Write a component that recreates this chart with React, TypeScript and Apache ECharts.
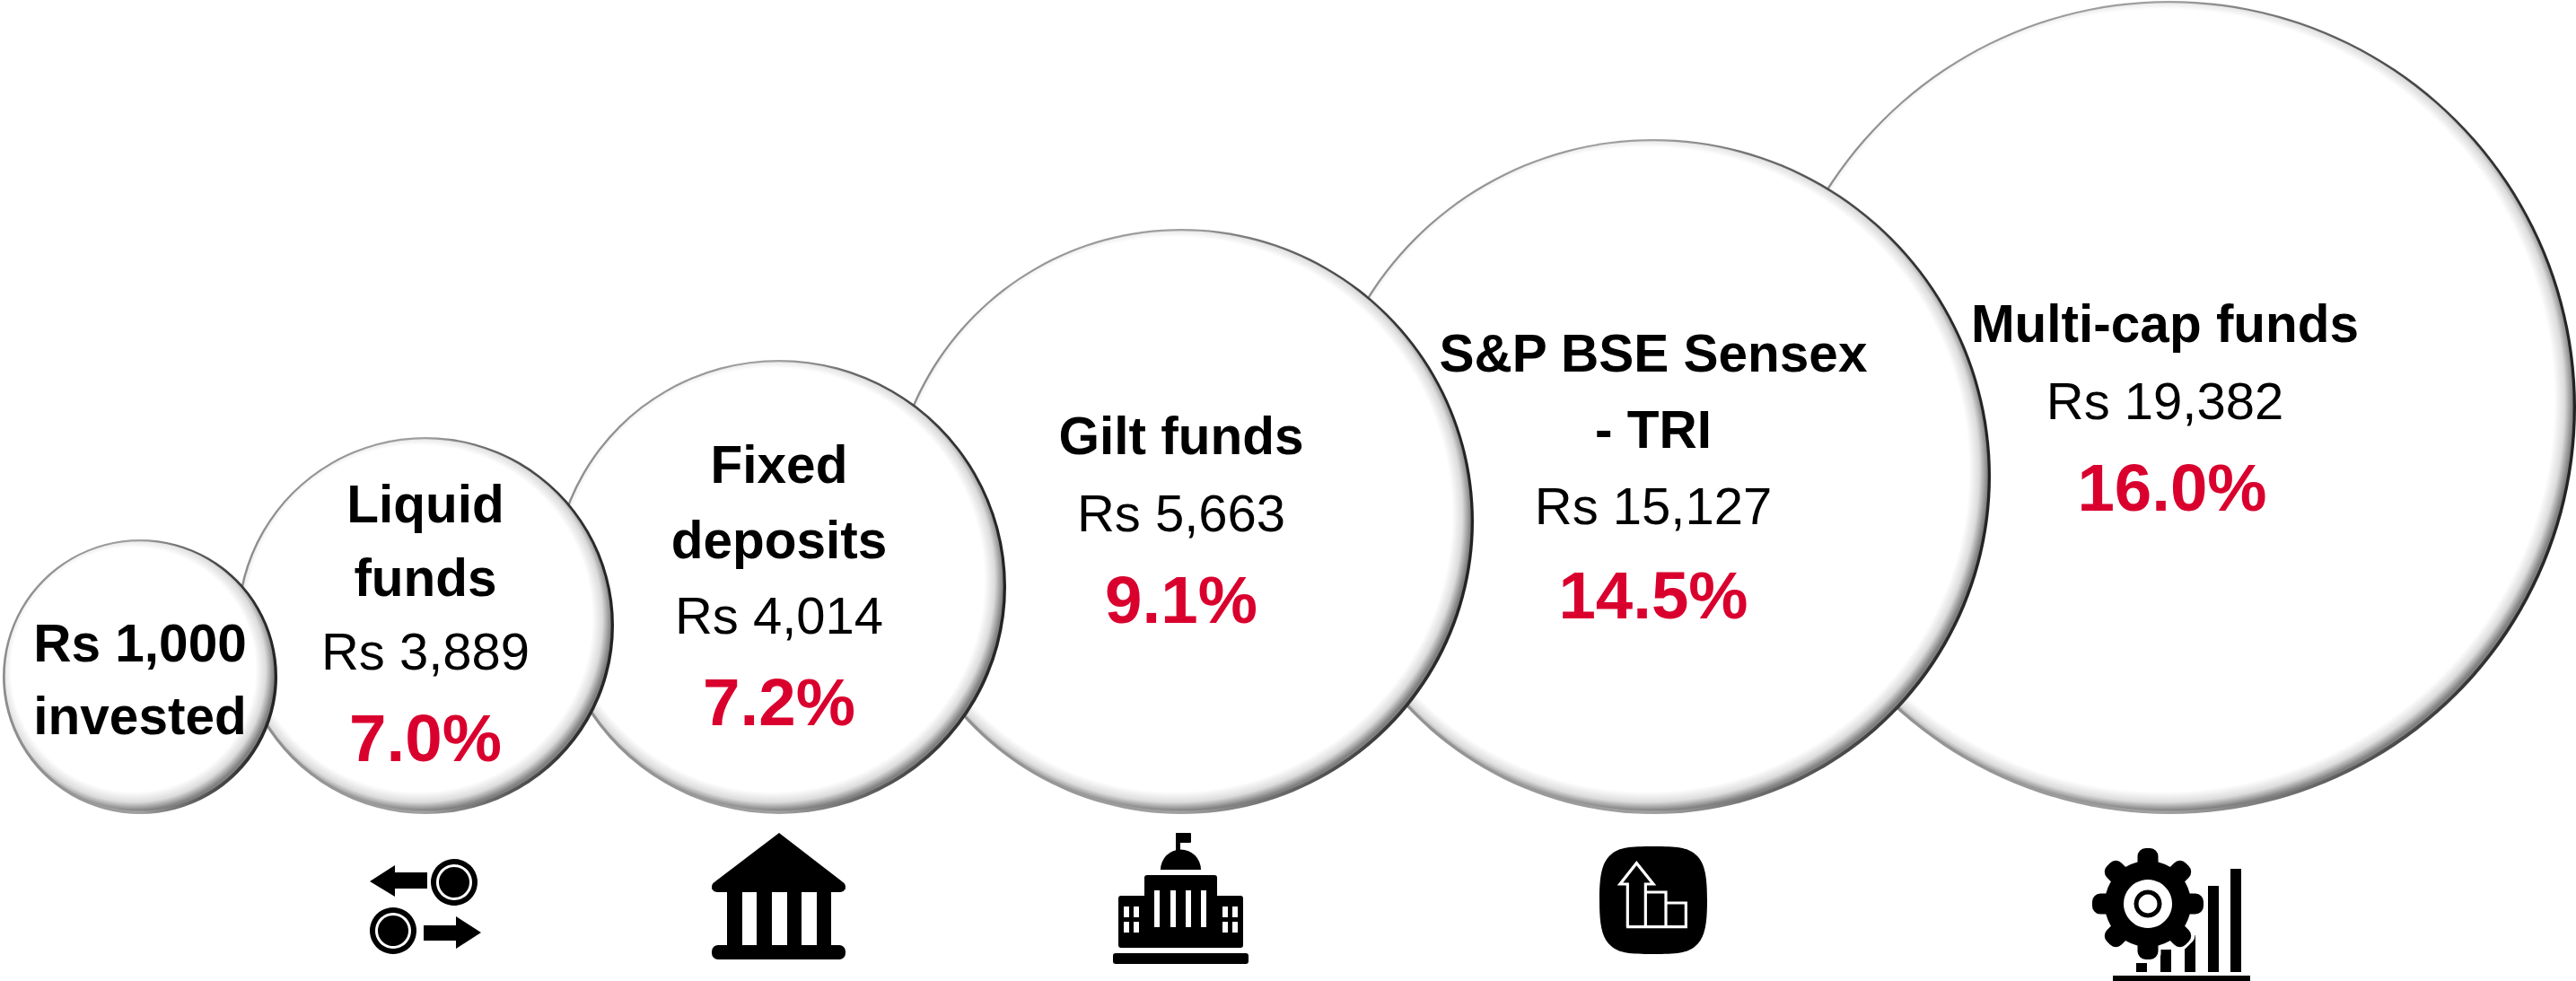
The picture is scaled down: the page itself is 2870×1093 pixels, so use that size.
import React, { useEffect, useRef } from "react";
import * as echarts from "echarts";

// ---- chart content ----
const titles: string[][] = [
  ["Rs 1,000", "invested"],
  ["Liquid", "funds"],
  ["Fixed", "deposits"],
  ["Gilt funds"],
  ["S&P BSE Sensex", "- TRI"],
  ["Multi-cap funds"],
];
const finalValues = [1000, 3889, 4014, 5663, 15127, 19382];
const returnsPct = [null, 7.0, 7.2, 9.1, 14.5, 16.0];

// ---- layout (page pixels) ----
const W = 2870;
const H = 1093;
const FONT = "Liberation Sans, Arial, sans-serif";
const bubbleX = [156, 474, 868, 1316, 1842, 2417];
const bubbleR = [153, 210, 253, 326, 376, 453];
const bubbleBottom = 907;
const labelTop = [716, 561, 517, 485, 393, 360];
const lineStep = [81, 82, 84, 86, 85, 86];
const pctStep = [0, 97, 97, 97, 100, 97];
const textDx = [0, 0, 0, 0, 0, -5];
const pctDx = [0, 0, 0, 0, 0, 3];

const rows = finalValues.map((_, i) => i).reverse();

function renderBubble(_: any, api: any) {
  const i = api.value(0);
  const [cx, cy] = api.coord([bubbleX[i], bubbleBottom - bubbleR[i]]);
  const r = api.size([bubbleR[i], 0])[0];
  const shift = 7;
  const innerR = r - 3;
  const d = 2 * innerR;
  const outerR = innerR + shift;
  const white = Math.max(0, (r - 17) / outerR);
  const children: any[] = [
    {
      type: "circle",
      shape: { cx, cy, r },
      style: {
        fill: {
          type: "linear", x: 0, y: 0.5, x2: 1, y2: 0.5,
          colorStops: [
            { offset: 0, color: "#8c8c8c" },
            { offset: 0.5, color: "#a0a0a0" },
            { offset: 0.72, color: "#5a5a5a" },
            { offset: 0.88, color: "#333333" },
            { offset: 1, color: "#222222" },
          ],
        },
      },
    },
    {
      type: "circle",
      shape: { cx: cx - 0.3, cy: cy - 0.8, r: innerR },
      style: {
        fill: {
          type: "radial",
          x: 0.5 - shift / d,
          y: 0.5 - shift / d,
          r: outerR / d,
          colorStops: [
            { offset: 0, color: "#ffffff" },
            { offset: white, color: "#ffffff" },
            { offset: white + (1 - white) * 0.55, color: "#dcdcdc" },
            { offset: 1, color: "#808080" },
          ],
        },
      },
    },
  ];
  const addText = (text: string, x: number, y: number, size: number, weight: string, fill: string) =>
    children.push({
      type: "text",
      style: {
        text, x, y, align: "center", verticalAlign: "middle",
        font: `${weight} ${size}px ${FONT}`, fill,
      },
    });
  let y = labelTop[i];
  titles[i].forEach((t) => {
    addText(t, cx + textDx[i], y, 58.5, "bold", "#000000");
    y += lineStep[i];
  });
  if (returnsPct[i] !== null) {
    addText(`Rs ${finalValues[i].toLocaleString("en-US")}`, cx + textDx[i], y, 58, "normal", "#000000");
    addText(`${(returnsPct[i] as number).toFixed(1)}%`, cx + pctDx[i], y + pctStep[i], 74.5, "bold", "#d9002e");
  }
  return { type: "group", children };
}

const rect = (x: number, y: number, w: number, h: number, fill = "#000", r = 0) => ({
  type: "rect", shape: { x, y, width: w, height: h, r }, style: { fill },
});
const circle = (cx: number, cy: number, r: number, fill = "#000") => ({
  type: "circle", shape: { cx, cy, r }, style: { fill },
});
const poly = (points: number[][], fill = "#000") => ({
  type: "polygon", shape: { points }, style: { fill },
});
const coin = (cx: number, cy: number) => [
  circle(cx, cy, 26), circle(cx, cy, 20, "#fff"), circle(cx, cy, 17),
];

function swapIcon() {
  return [
    poly([[412, 982], [440, 964], [440, 972], [476, 972], [476, 990], [440, 990], [440, 999]]),
    poly([[536, 1039], [508, 1021], [508, 1031], [472, 1031], [472, 1048], [508, 1048], [508, 1057]]),
    ...coin(506, 983),
    ...coin(438, 1037),
  ];
}
function bankIcon() {
  return [
    poly([[868, 928], [938, 982], [942, 991], [793, 991], [797, 982]]),
    rect(793, 982, 149, 12, "#000", 6),
    rect(810, 990, 116, 66),
    rect(827, 994, 16, 59, "#fff"),
    rect(860, 994, 17, 59, "#fff"),
    rect(893, 994, 17, 59, "#fff"),
    rect(793, 1053, 149, 16, "#000", 7),
  ];
}
function capitolIcon() {
  const windows: any[] = [];
  [1252, 1263, 1362, 1373].forEach((x) =>
    [1010, 1027].forEach((y) => windows.push(rect(x, y, 6, 12, "#fff")))
  );
  return [
    rect(1310, 928, 5, 26),
    rect(1310, 928, 17, 11, "#000", 1),
    { type: "sector", shape: { cx: 1315.5, cy: 969, r: 22.5, r0: 0, startAngle: Math.PI, endAngle: 2 * Math.PI }, style: { fill: "#000" } },
    rect(1275, 975, 81, 60, "#000", 3),
    rect(1246, 998, 139, 58, "#000", 3),
    ...[1286, 1304, 1321, 1338].map((x) => rect(x, 992, 6, 41, "#fff")),
    ...windows,
    rect(1240, 1062, 151, 12, "#000", 3),
  ];
}
function trendIcon() {
  const s = (t: number) => 1750 + t / 3;
  const v = (t: number) => 920 + t / 3;
  const line = (pts: number[][]) => ({
    type: "polyline",
    shape: { points: pts.map(([a, b]) => [s(a), v(b)]) },
    style: { stroke: "#fff", lineWidth: 3.2, fill: "none", lineJoin: "miter" },
  });
  return [
    { type: "trendBadge", x: 0, y: 0, style: { fill: "#000" } },
    line([[190, 338], [190, 195], [165, 195], [220, 125], [276, 195], [250, 195], [250, 338]]),
    line([[250, 222], [318, 222], [318, 338]]),
    line([[318, 258], [385, 258], [385, 338], [186, 338]]),
  ];
}
function gearIcon() {
  const cx = 2393, cy = 1007;
  const teeth = (fill: string, grow: number) =>
    Array.from({ length: 8 }, (_, k) => ({
      type: "rect",
      x: cx, y: cy, rotation: (k * Math.PI) / 4,
      shape: { x: -11.5 - grow, y: -62 - grow, width: 23 + 2 * grow, height: 30, r: 9 },
      style: { fill },
    }));
  return [
    rect(2380, 1073, 12, 10),
    rect(2407, 1058, 12, 25),
    rect(2434, 1042, 12, 41),
    rect(2460, 987, 12, 96),
    rect(2485, 968, 12, 115),
    rect(2354, 1087, 153, 6),
    ...teeth("#fff", 3),
    circle(cx, cy, 52, "#fff"),
    ...teeth("#000", 0),
    circle(cx, cy, 48),
    circle(cx, cy, 27, "#fff"),
    circle(cx, cy, 15.5),
    circle(cx, cy, 10.5, "#fff"),
  ];
}

echarts.graphic.registerShape(
  "trendBadge",
  echarts.graphic.extendPath(
    "M1842 943C1868 943 1880 944 1889 952C1900 961 1902 978 1902 1003C1902 1028 1900 1045 1889 1054C1880 1062 1868 1063 1842 1063C1816 1063 1804 1062 1795 1054C1784 1045 1782 1028 1782 1003C1782 978 1784 961 1795 952C1804 944 1816 943 1842 943Z",
    {}
  )
);

export default function App() {
  const ref = useRef<HTMLDivElement>(null);
  useEffect(() => {
    document.body.style.margin = "0";
    document.body.style.overflow = "hidden";
    const chart = echarts.init(ref.current!, undefined, { renderer: "svg" });
    chart.setOption({
      animation: false,
      backgroundColor: "#ffffff",
      grid: { left: 0, top: 0, right: 0, bottom: 0 },
      xAxis: { type: "value", min: 0, max: W, show: false },
      yAxis: { type: "value", min: 0, max: H, inverse: true, show: false },
      series: [
        {
          type: "custom",
          coordinateSystem: "cartesian2d",
          clip: false,
          silent: true,
          encode: { x: 0, y: 0 },
          data: rows.map((i) => [i]),
          renderItem: renderBubble,
        },
      ],
      graphic: [
        { type: "group", silent: true, children: [...swapIcon(), ...bankIcon(), ...capitolIcon(), ...trendIcon(), ...gearIcon()] },
      ],
    });
    return () => chart.dispose();
  }, []);
  return <div ref={ref} style={{ width: W, height: H }} />;
}
